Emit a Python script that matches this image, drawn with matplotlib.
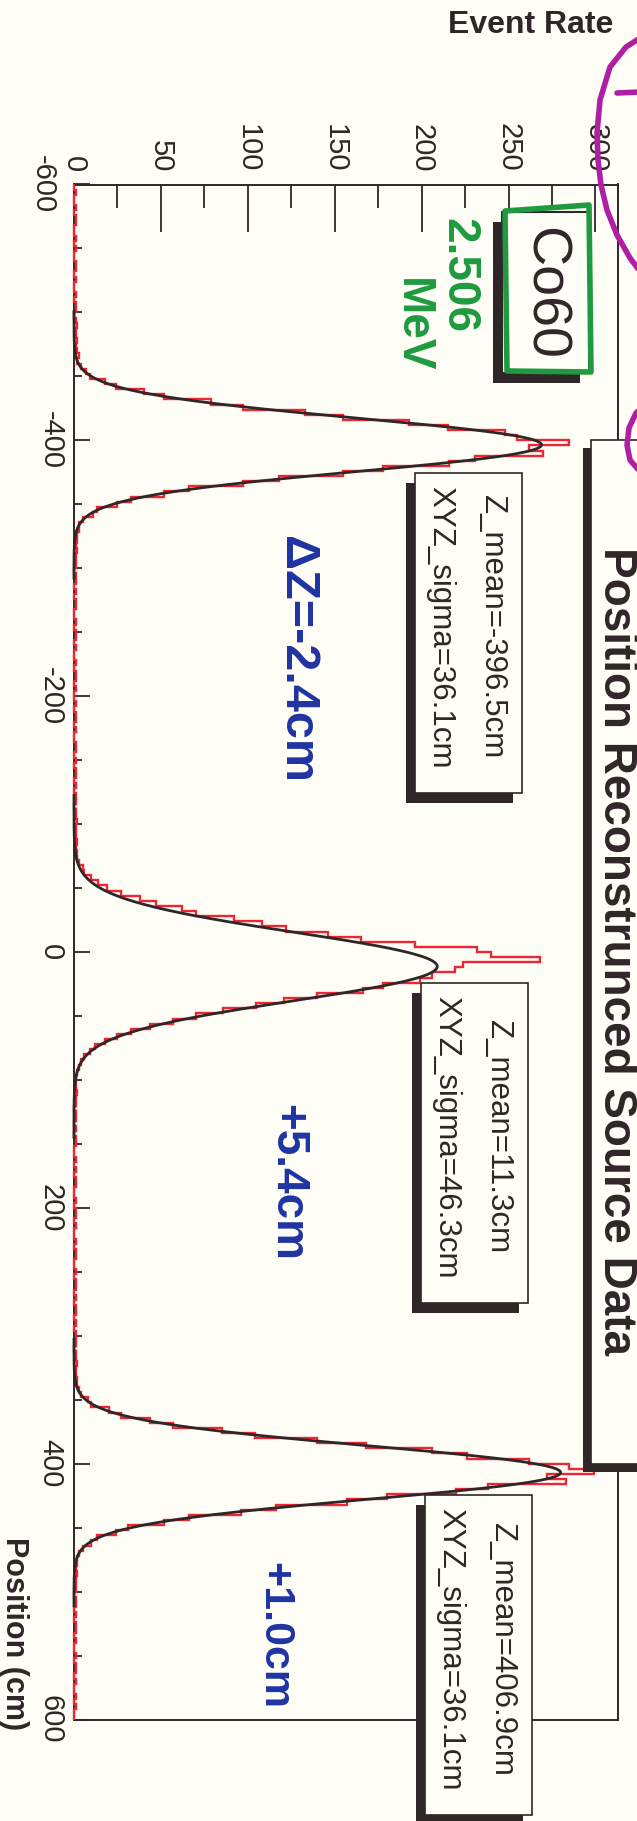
import numpy as np
import matplotlib
matplotlib.use("Agg")
import matplotlib.pyplot as plt
from matplotlib.patches import Rectangle, Polygon
from matplotlib.ticker import MultipleLocator, FixedLocator
from matplotlib.transforms import blended_transform_factory, ScaledTranslation

plt.rcParams['font.family'] = ['Liberation Sans', 'DejaVu Sans']
plt.rcParams['axes.unicode_minus'] = False

W, H, DPI = 637, 1821, 100
PAPER = '#fefdf6'
INK = '#2f2727'
RED = '#ee2634'
GREEN = '#1f9a3e'
BLUE = '#1f33a3'
MAGENTA = '#b01fa3'

# ---- reconstructed Z position histogram, 4 cm bins from -600 to 600 cm ----
bin_edges_cm = (-600, 600, 4)

bg_low = [0, 1, 0, 0, 1, 0, 1, 1, 0, 0, 1, 0, 1, 0, 0, 1, 1, 0, 1, 0,
          0, 1, 0, 1, 1, 0, 1, 2, 1, 1, 2, 1, 2, 3, 2]
peak_a = [4, 7, 9, 18, 24, 40, 52, 79, 97, 133, 155, 193, 215, 248, 255, 285,
          262, 270, 231, 216, 178, 155, 118, 97, 66, 52, 33, 25, 13, 11, 5, 3]
bg_mid1 = [3, 2, 2, 1, 2, 1, 1, 1, 0, 1, 1, 0, 1, 0, 1, 1, 0, 0, 1, 0,
           1, 1, 0, 1, 0, 0, 1, 0, 1, 1, 0, 1, 0, 0, 1, 0, 1, 1, 0, 1,
           0, 0, 1, 1, 0, 1, 0, 1, 1, 0, 1, 0, 1, 1, 0, 1, 1, 2, 1, 1,
           1, 2, 1, 2]
peak_b = [2, 3, 5, 6, 10, 14, 19, 27, 38, 47, 62, 70, 92, 108, 122, 146, 165,
          196, 232, 240, 268, 224, 219, 206, 199, 178, 166, 140, 121, 105, 86,
          70, 57, 44, 33, 25, 18, 12, 9, 6, 4, 3, 2, 1]
bg_mid2 = [1, 1, 2, 1, 1, 0, 1, 1, 0, 1, 0, 1, 1, 0, 0, 1, 0, 1, 0, 1,
           1, 0, 0, 1, 0, 1, 1, 0, 1, 0, 0, 1, 0, 1, 1, 0, 0, 1, 0, 1,
           1, 0, 1, 0, 1, 1, 0, 1, 0, 1, 1, 1, 0, 1, 1, 2, 1, 1, 2, 2, 3]
peak_c = [4, 8, 10, 20, 27, 44, 57, 85, 104, 140, 168, 206, 226, 262, 285, 299,
          272, 283, 238, 220, 180, 157, 116, 96, 66, 52, 31, 24, 13, 10, 5, 3]
bg_high = [2, 2, 1, 2, 1, 1, 1, 0, 1, 1, 0, 1, 0, 1, 1, 0, 1, 0, 0, 1,
           0, 1, 1, 0, 1, 0, 0, 1, 0, 1, 0, 0]

# ---- Gaussian fits per source position ----
fit_amp = [269, 209, 280]
z_mean = [-396.5, 11.3, 406.9]
xyz_sigma = [36.1, 46.3, 36.1]
shift_notes = ["ΔZ=-2.4cm", "+5.4cm", "+1.0cm"]

pos_ticks = [-600, -400, -200, 0, 200, 400, 600]
rate_ticks = [0, 50, 100, 150, 200, 250, 300]

counts = np.array(bg_low + peak_a + bg_mid1 + peak_b + bg_mid2 + peak_c + bg_high)
edges = np.arange(bin_edges_cm[0], bin_edges_cm[1] + bin_edges_cm[2], bin_edges_cm[2])

fig = plt.figure(figsize=(W / DPI, H / DPI), dpi=DPI, facecolor=PAPER)

# main frame (page is turned: event rate runs left->right, position top->bottom)
ax = fig.add_axes([74 / W, 1 - 1719.5 / H, 544 / W, 1535 / H])
ax.set_facecolor('none')
ax.set_xlim(0, 313)
ax.set_ylim(600, -600)

ax.stairs(counts, edges, orientation='horizontal', color=RED, lw=1.7,
          zorder=3, clip_on=False, baseline=None)

for amp, mu, sxyz in zip(fit_amp, z_mean, xyz_sigma):
    s = sxyz / np.sqrt(3.0)
    z = np.linspace(mu - 5 * s, mu + 5 * s, 500)
    ax.plot(amp * np.exp(-0.5 * ((z - mu) / s) ** 2), z, color=INK, lw=2.0,
            zorder=4, clip_on=False)

for sp in ax.spines.values():
    sp.set_color(INK)
    sp.set_linewidth(1.4)

ax.xaxis.set_ticks_position('top')
ax.xaxis.set_major_locator(FixedLocator(rate_ticks))
ax.xaxis.set_minor_locator(MultipleLocator(25))
ax.yaxis.set_major_locator(FixedLocator(pos_ticks))
ax.yaxis.set_minor_locator(MultipleLocator(50))
ax.tick_params(axis='x', which='both', direction='in', top=True, bottom=False,
               labeltop=True, labelbottom=False, color=INK, width=1.3)
ax.tick_params(axis='x', which='major', length=33.8, pad=9, labelsize=21,
               labelrotation=-90, labelcolor=INK)
ax.tick_params(axis='x', which='minor', length=16.6)
ax.tick_params(axis='y', which='both', direction='in', left=True, right=False,
               labelleft=False, color=INK, width=1.3)
ax.tick_params(axis='y', which='major', length=11.5)
ax.tick_params(axis='y', which='minor', length=5.8)
ax.set_xticklabels([str(v) for v in rate_ticks])

# position labels, turned with the page; the corner one sits a bit further out
ytr = blended_transform_factory(ax.transAxes, ax.transData)
for v in pos_ticks:
    dx = -0.17 if v == pos_ticks[0] else -0.095
    ax.text(0, v, str(v), rotation=-90, ha='right', va='center', fontsize=21,
            color=INK, clip_on=False,
            transform=ytr + ScaledTranslation(dx, 0, fig.dpi_scale_trans))

# overlay in page pixel coordinates for boxes and notes
ov = fig.add_axes([0, 0, 1, 1])
ov.set_xlim(0, W)
ov.set_ylim(H, 0)
ov.axis('off')
ov.patch.set_alpha(0)

fig.text(613 / W, 1 - 25 / H, "Event Rate", ha='right', va='center',
         fontsize=23, fontweight='bold', color=INK)
ov.text(14, 1730, "Position (cm)", rotation=-90, ha='center', va='bottom',
        fontsize=22, fontweight='bold', color=INK)


def shadow_box(x0, y0, w, h, off=(-9, 10), lw=1.2):
    ov.add_patch(Rectangle((x0 + off[0], y0 + off[1]), w, h, facecolor=INK,
                           edgecolor=INK, lw=0, zorder=5))
    ov.add_patch(Rectangle((x0, y0), w, h, facecolor=PAPER, edgecolor=INK,
                           lw=lw, zorder=6))


# title
shadow_box(591, 440, 120, 1024, off=(-8, 8))
ov.text(616, 951, "Position Reconstrunced Source Data", rotation=-90,
        ha='center', va='center', fontsize=33, fontweight='bold', color=INK,
        zorder=7)

# source tag
shadow_box(502, 212, 87, 161, off=(-9, 10), lw=1.5)
ov.text(544, 293, "Co60", rotation=-90, ha='center', va='center',
        fontsize=40, color=INK, zorder=7)
ov.add_patch(Polygon([(505, 211), (589, 205), (591, 372), (507, 371)],
                     closed=True, fill=False, edgecolor=GREEN, lw=4, zorder=8,
                     joinstyle='round'))
ov.text(458, 275, "2.506", rotation=-90, ha='center', va='center',
        fontsize=33, fontweight='bold', color=GREEN, zorder=8)
ov.text(412, 325, "MeV", rotation=-90, ha='center', va='center',
        fontsize=33, fontweight='bold', color=GREEN, zorder=8)

# fit statistics
stat_origin = [(415, 473), (421, 983), (425, 1495)]
for (x0, y0), mu, sxyz in zip(stat_origin, z_mean, xyz_sigma):
    shadow_box(x0, y0, 107, 320)
    ov.text(x0 + 77, y0 + 154, f"Z_mean={mu:.1f}cm", rotation=-90,
            ha='center', va='center', fontsize=22.5, color=INK, zorder=7)
    ov.text(x0 + 25, y0 + 154, f"XYZ_sigma={sxyz:.1f}cm", rotation=-90,
            ha='center', va='center', fontsize=22.5, color=INK, zorder=7)

# offsets written next to each peak
note_xy = [(296, 659), (287, 1183), (274, 1636)]
note_size = [35, 33, 31]
for (x, y), txt, fs in zip(note_xy, shift_notes, note_size):
    ov.text(x, y, txt, rotation=-90, ha='center', va='center', fontsize=fs,
            fontweight='bold', color=BLUE, zorder=8)

# margin pen strokes
arc1 = [(648, 33), (626, 47), (610, 67), (600, 100), (597, 133), (598, 160),
        (601, 185), (607, 210), (617, 235), (630, 258), (645, 278)]
ov.plot(*zip(*arc1), color=MAGENTA, lw=4, solid_capstyle='round', zorder=8)
ov.plot([617, 640], [93, 92], color=MAGENTA, lw=4, solid_capstyle='round', zorder=8)
arc2 = [(648, 402), (636, 413), (629, 428), (627, 445), (630, 460), (642, 474)]
ov.plot(*zip(*arc2), color=MAGENTA, lw=4, solid_capstyle='round', zorder=8)

fig.savefig("out.png", dpi=DPI, facecolor=PAPER)
